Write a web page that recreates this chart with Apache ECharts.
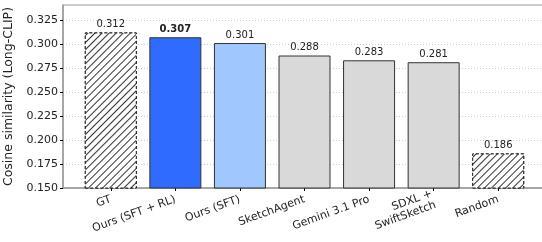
<!DOCTYPE html>
<html>
<head>
<meta charset="utf-8">
<script src="https://cdn.jsdelivr.net/npm/echarts@6/dist/echarts.min.js"></script>
<style>
  html, body { margin: 0; padding: 0; background: #fff; }
  #chart { width: 542px; height: 242px; }
</style>
</head>
<body>
<div id="chart"></div>
<script>
const categories = ['GT', 'Ours (SFT + RL)', 'Ours (SFT)', 'SketchAgent', 'Gemini 3.1 Pro', 'SDXL +\nSwiftSketch', 'Random']
const values = [0.312, 0.307, 0.301, 0.288, 0.283, 0.281, 0.186]
const yTicks = [0.150, 0.175, 0.200, 0.225, 0.250, 0.275, 0.300, 0.325]

const FONT = 'DejaVu Sans'
const positions = categories.map((c, i) => i)

// bar styles (hatched for reference bars)
function styleFor (i) {
  const hatch = {
    color: '#fff',
    borderColor: '#222',
    borderWidth: 1,
    borderType: [3, 2],
    decal: {
      symbol: 'rect',
      symbolSize: 1,
      color: '#333',
      backgroundColor: '#fff',
      dashArrayX: [1, 0],
      dashArrayY: [1, 4],
      rotation: -Math.PI / 4
    }
  }
  if (i === 0 || i === 6) return hatch
  if (i === 1) return { color: '#2f6bff', borderColor: '#333', borderWidth: 1 }
  if (i === 2) return { color: '#a0c8ff', borderColor: '#333', borderWidth: 1 }
  return { color: '#d9d9d9', borderColor: '#333', borderWidth: 1 }
}

const chart = echarts.init(document.getElementById('chart'), null, { renderer: 'canvas' })
chart.setOption({
  animation: false,
  grid: {
    left: 63, right: -4, top: 5, bottom: 54,
    containLabel: false,
    outerBoundsMode: 'none',
    show: true, borderColor: '#999', borderWidth: 1
  },
  xAxis: {
    type: 'value',
    min: -0.74,
    max: 6.74,
    splitLine: { show: false },
    axisLine: { show: true, onZero: false, lineStyle: { color: '#999', width: 1.5 } },
    axisTick: { show: true, customValues: positions, length: 3, lineStyle: { color: '#000' } },
    axisLabel: {
      customValues: positions,
      formatter: v => categories[Math.round(v)],
      rotate: 20,
      fontFamily: FONT,
      fontSize: 11,
      color: '#222',
      margin: 11,
      lineHeight: 12,
      align: 'right'
    }
  },
  yAxis: {
    type: 'value',
    min: 0.15,
    max: 0.3406,
    interval: 0.025,
    name: 'Cosine similarity (Long-CLIP)',
    nameLocation: 'middle',
    nameGap: 33,
    nameTextStyle: { fontFamily: FONT, fontSize: 12.5, color: '#222' },
    axisLine: { show: true, onZero: false, lineStyle: { color: '#999', width: 1.5 } },
    axisTick: { show: true, length: 3, lineStyle: { color: '#000' } },
    axisLabel: {
      fontFamily: FONT,
      fontSize: 11,
      color: '#222',
      margin: 5,
      showMaxLabel: false,
      formatter: v => v.toFixed(3)
    },
    splitLine: { show: true, lineStyle: { color: '#ccc', type: [1, 2], width: 1 } }
  },
  series: [{
    type: 'bar',
    barWidth: 52,
    clip: true,
    data: values.map((v, i) => ({
      value: [i, v],
      itemStyle: styleFor(i),
      label: {
        show: true,
        position: 'top',
        distance: 3,
        formatter: v.toFixed(3),
        fontFamily: FONT,
        fontSize: 10,
        color: '#222',
        fontWeight: i === 1 ? 'bold' : 'normal'
      }
    }))
  }]
})
</script>
</body>
</html>
